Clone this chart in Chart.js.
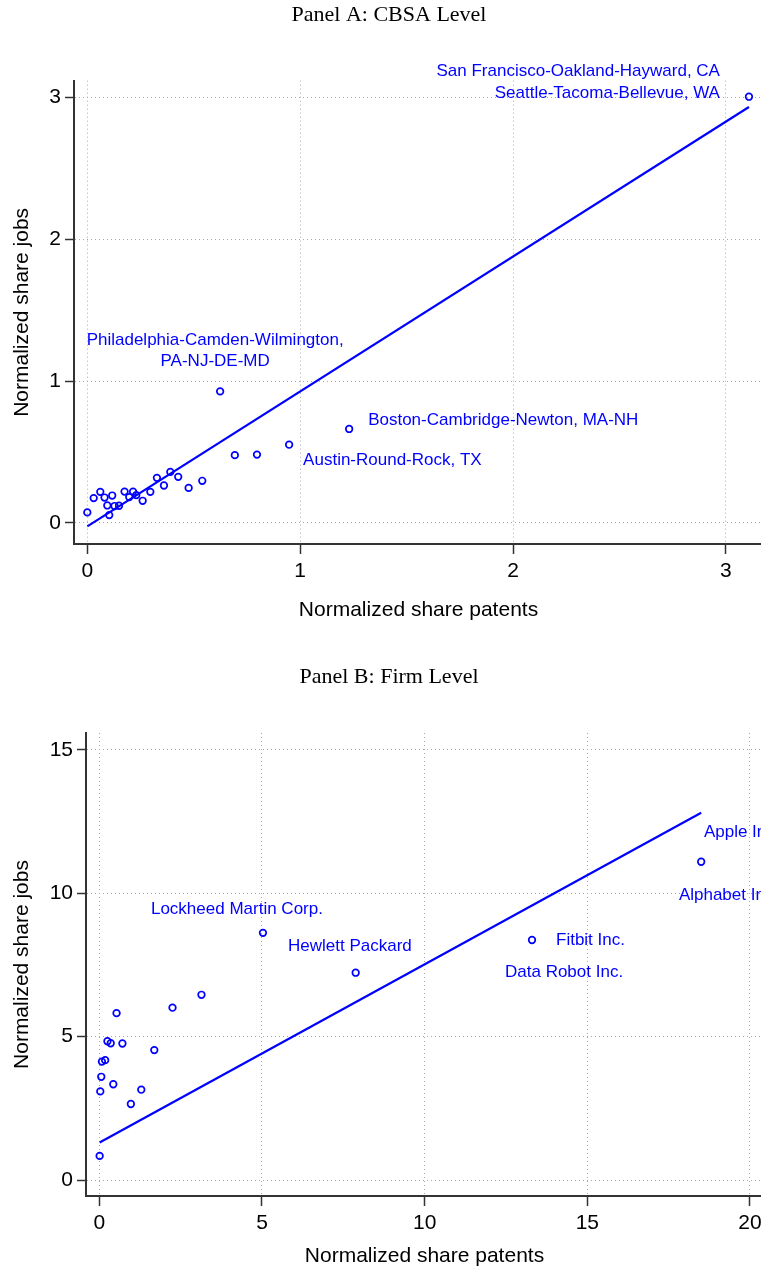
<!DOCTYPE html>
<html>
<head>
<meta charset="utf-8">
<script src="https://cdn.jsdelivr.net/npm/chart.js@4.4.0/dist/chart.umd.min.js"></script>
<style>
html, body { margin: 0; padding: 0; background: #fff; overflow: hidden; width: 761px; height: 1274px; }
.panel { position: absolute; left: 0; }
</style>
</head>
<body>
<div class="panel" style="top:0"><canvas id="panelA" width="790" height="640"></canvas></div>
<div class="panel" style="top:640px"><canvas id="panelB" width="790" height="634"></canvas></div>
<script>
// Panel A: CBSA level
const cbsaPatents = [0.00, 0.03, 0.061, 0.081, 0.094, 0.103, 0.117, 0.128, 0.149, 0.175, 0.197, 0.215, 0.23, 0.26,
  0.296, 0.327, 0.36, 0.39, 0.427, 0.476, 0.54, 0.624, 0.693, 0.797, 0.948, 1.23, 3.108];
const cbsaJobs = [0.073, 0.174, 0.218, 0.178, 0.122, 0.054, 0.192, 0.118, 0.12, 0.22, 0.181, 0.22, 0.195, 0.155,
  0.218, 0.317, 0.263, 0.359, 0.324, 0.246, 0.296, 0.927, 0.477, 0.481, 0.551, 0.662, 3.007];
const cbsaFit = { intercept: -0.026, slope: 0.9526 };
const cbsaNames = ['San Francisco-Oakland-Hayward, CA', 'Seattle-Tacoma-Bellevue, WA',
  'Philadelphia-Camden-Wilmington,', 'PA-NJ-DE-MD', 'Boston-Cambridge-Newton, MA-NH', 'Austin-Round-Rock, TX'];
const cbsaNamePoint = [26, 26, 21, 21, 25, 24];
const cbsaXTicks = [0, 1, 2, 3];
const cbsaYTicks = [0, 1, 2, 3];

// Panel B: firm level
const firmPatents = [0.01, 0.03, 0.06, 0.08, 0.18, 0.25, 0.35, 0.43, 0.53, 0.71, 0.97, 1.29, 1.69, 2.25, 3.14,
  5.03, 7.88, 13.3, 18.5];
const firmJobs = [0.84, 3.09, 3.6, 4.13, 4.18, 4.84, 4.77, 3.34, 5.82, 4.76, 2.65, 3.15, 4.53, 6.01, 6.46,
  8.62, 7.23, 8.37, 11.1];
const firmFit = { intercept: 1.3, slope: 0.622 };
const firmNames = ['Lockheed Martin Corp.', 'Hewlett Packard', 'Fitbit Inc.', 'Data Robot Inc.', 'Apple Inc.', 'Alphabet Inc.'];
const firmNamePoint = [15, 16, 17, 17, 18, 18];
const firmXTicks = [0, 5, 10, 15, 20];
const firmYTicks = [0, 5, 10, 15];

const BLUE = '#0000ff';
const SANS = '"Liberation Sans", Arial, sans-serif';

function fitLine(xs, fit) {
  let lo = Math.min(...xs), hi = Math.max(...xs);
  return [{ x: lo, y: fit.intercept + fit.slope * lo }, { x: hi, y: fit.intercept + fit.slope * hi }];
}

function textPlugin(cfg) {
  return {
    id: 'panelText',
    afterDatasetsDraw(chart) {
      let ctx = chart.ctx, sx = chart.scales.x, sy = chart.scales.y;
      ctx.save();
      ctx.fillStyle = BLUE;
      ctx.font = '17px ' + SANS;
      ctx.textBaseline = 'middle';
      cfg.names.forEach((name, i) => {
        let p = cfg.points[i], off = cfg.offsets[i];
        ctx.textAlign = off[2];
        ctx.fillText(name, sx.getPixelForValue(cfg.xs[p]) + off[0], sy.getPixelForValue(cfg.ys[p]) + off[1]);
      });
      ctx.fillStyle = '#000';
      ctx.font = '22px "Liberation Serif", "Times New Roman", serif';
      ctx.textAlign = 'center';
      ctx.fillText(cfg.title, 389, cfg.titleY);
      ctx.restore();
    }
  };
}

function makeChart(id, cfg) {
  let pts = cfg.xs.map((x, i) => ({ x: x, y: cfg.ys[i] }));
  return new Chart(document.getElementById(id), {
    type: 'scatter',
    data: {
      datasets: [
        { data: pts, pointStyle: 'circle', pointRadius: 3.3, pointHoverRadius: 3.3,
          borderColor: BLUE, backgroundColor: 'rgba(0,0,0,0)', borderWidth: 1.7 },
        { type: 'line', data: fitLine(cfg.xs, cfg.fit), borderColor: BLUE, borderWidth: 2.2,
          pointRadius: 0, fill: false, tension: 0 }
      ]
    },
    options: {
      responsive: false,
      devicePixelRatio: 1,
      animation: false,
      events: [],
      layout: { padding: { top: cfg.top, right: 27, left: 0, bottom: 0 } },
      plugins: { legend: { display: false }, tooltip: { enabled: false } },
      scales: {
        x: {
          type: 'linear', min: cfg.xMin, max: cfg.xMax,
          afterBuildTicks: s => { s.ticks = cfg.xTicks.map(v => ({ value: v })); },
          afterFit: s => { s.height = cfg.xHeight; },
          grid: { color: '#a8a8a8', lineWidth: 1, tickLength: 10, tickColor: '#333', tickWidth: 1.5 },
          border: { color: '#333', width: 2, dash: [1, 3] },
          ticks: { color: '#000', font: { family: SANS, size: 21 }, padding: 5, maxRotation: 0 },
          title: { display: true, text: 'Normalized share patents', color: '#000',
            font: { family: SANS, size: 21 }, padding: { top: 0, bottom: cfg.xTitlePad } }
        },
        y: {
          type: 'linear', min: cfg.yMin, max: cfg.yMax,
          afterBuildTicks: s => { s.ticks = cfg.yTicks.map(v => ({ value: v })); },
          afterFit: s => { s.width = cfg.left; },
          grid: { color: '#a8a8a8', lineWidth: 1, tickLength: 9, tickColor: '#333', tickWidth: 1.5 },
          border: { color: '#333', width: 2, dash: [1, 3] },
          ticks: { color: '#000', font: { family: SANS, size: 21 }, padding: 4 },
          title: { display: true, text: 'Normalized share jobs', color: '#000',
            font: { family: SANS, size: 21 }, padding: { top: 9.4, bottom: 0 } }
        }
      }
    },
    plugins: [textPlugin(cfg)]
  });
}

makeChart('panelA', {
  xs: cbsaPatents, ys: cbsaJobs, fit: cbsaFit, xTicks: cbsaXTicks, yTicks: cbsaYTicks,
  names: cbsaNames, points: cbsaNamePoint,
  offsets: [[-29, -25, 'right'], [-29, -3, 'right'], [-5, -51, 'center'], [-5, -29.6, 'center'],
    [19, -9, 'left'], [14, 16, 'left']],
  title: 'Panel A: CBSA Level', titleY: 15,
  xMin: -0.0625, xMax: 3.174, yMin: -0.150, yMax: 3.120,
  top: 80.7, left: 74, xHeight: 96, xTitlePad: 17.4
});

makeChart('panelB', {
  xs: firmPatents, ys: firmJobs, fit: firmFit, xTicks: firmXTicks, yTicks: firmYTicks,
  names: firmNames, points: firmNamePoint,
  offsets: [[-112, -23.7, 'left'], [-67.7, -26.7, 'left'], [24, 0.7, 'left'], [-27, 32, 'left'],
    [2.7, -29.3, 'left'], [-22.3, 34, 'left']],
  title: 'Panel B: Firm Level', titleY: 37,
  xMin: -0.409, xMax: 20.40, yMin: -0.558, yMax: 15.59,
  top: 93, left: 86, xHeight: 78, xTitlePad: 5.4
});
</script>
</body>
</html>
